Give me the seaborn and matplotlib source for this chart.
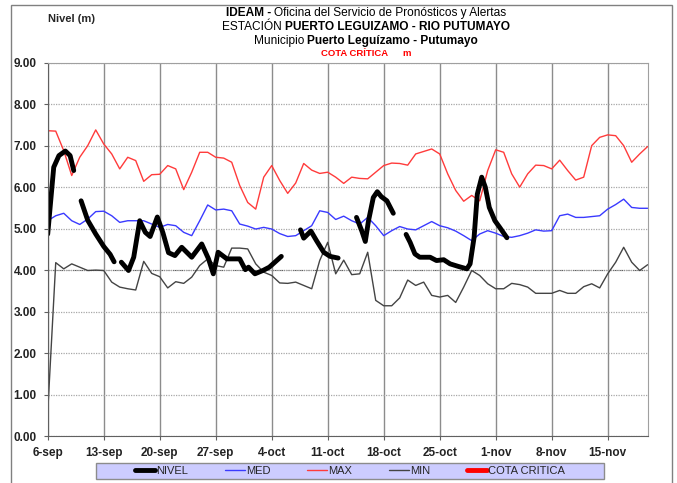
import numpy as np
import pandas as pd
import matplotlib
matplotlib.use("Agg")
import matplotlib.pyplot as plt
import seaborn as sns
from matplotlib.lines import Line2D
from matplotlib.patches import Rectangle

# datos (nivel en m), un valor por dia desde el 6-sep
inicio = pd.Timestamp("2023-09-06")
dias = np.arange(76)

med = [5.19, 5.31, 5.37, 5.19, 5.10, 5.23, 5.41, 5.42, 5.31, 5.15,
       5.19, 5.19, 5.19, 5.11, 5.03, 5.10, 5.07, 4.91, 4.83, 5.19,
       5.57, 5.45, 5.47, 5.43, 5.11, 5.06, 4.99, 5.03, 4.99, 4.88,
       4.81, 4.83, 4.95, 5.07, 5.43, 5.39, 5.22, 5.30, 5.19, 5.11,
       5.27, 5.07, 4.83, 4.95, 5.05, 4.99, 4.97, 5.07, 5.17, 5.07,
       5.02, 4.94, 4.83, 4.71, 4.87, 4.95, 4.89, 4.81, 4.79, 4.83,
       4.89, 4.97, 4.94, 4.95, 5.31, 5.35, 5.27, 5.27, 5.29, 5.31,
       5.47, 5.58, 5.71, 5.51, 5.49, 5.49]

maxi = [7.36, 7.35, 6.88, 6.28, 6.72, 7.00, 7.38, 7.04, 6.80, 6.44,
        6.72, 6.64, 6.14, 6.30, 6.31, 6.52, 6.44, 5.94, 6.36, 6.84,
        6.84, 6.72, 6.70, 6.60, 6.04, 5.63, 5.47, 6.24, 6.52, 6.16,
        5.85, 6.10, 6.57, 6.41, 6.33, 6.36, 6.24, 6.09, 6.24, 6.21,
        6.20, 6.36, 6.52, 6.58, 6.57, 6.53, 6.80, 6.86, 6.92, 6.80,
        6.32, 5.92, 5.66, 5.80, 5.67, 6.40, 6.90, 6.84, 6.32, 6.00,
        6.32, 6.53, 6.52, 6.44, 6.65, 6.40, 6.17, 6.24, 7.00, 7.20,
        7.26, 7.24, 7.00, 6.60, 6.80, 6.98]

mini = [0.58, 4.18, 4.03, 4.15, 4.07, 3.99, 4.00, 3.99, 3.71, 3.59,
        3.55, 3.52, 4.21, 3.92, 3.84, 3.57, 3.72, 3.68, 3.83, 4.11,
        4.27, 4.11, 4.07, 4.53, 4.53, 4.51, 4.15, 3.95, 3.87, 3.69,
        3.68, 3.71, 3.63, 3.55, 4.23, 4.67, 3.91, 4.24, 3.89, 3.91,
        4.43, 3.27, 3.14, 3.14, 3.33, 3.76, 3.63, 3.71, 3.39, 3.35,
        3.39, 3.22, 3.59, 3.99, 3.87, 3.67, 3.55, 3.55, 3.68, 3.65,
        3.59, 3.44, 3.44, 3.44, 3.51, 3.44, 3.44, 3.60, 3.67, 3.57,
        3.91, 4.19, 4.55, 4.19, 3.99, 4.13]

# nivel observado: varias lecturas por dia, NaN = sin dato (corta la linea)
nan = np.nan
nivel_dias = [0, 0.75, 1.4, 2.2, 2.8, 3.25, 3.7,
              4.17, 5.0, 6.0, 7.0, 7.8, 8.3, 8.7,
              9.2, 10.1, 10.75, 11.5, 12.2, 12.8, 13.7, 14.4, 15.1, 15.9,
              16.75, 18.0, 19.25, 20.1, 20.7, 21.3, 22.4, 24.0, 24.7, 25.1,
              25.9, 26.9, 27.7, 29.2, 30.0,
              31.6, 32.0, 32.9, 33.6, 34.5, 35.3, 36.3, 37.0,
              38.6, 39.25, 39.7, 40.1, 40.7, 41.2, 41.7, 42.4, 43.2, 44.0,
              44.8, 45.3, 45.9, 46.5, 47.8, 48.6, 49.5, 50.3, 51.3, 52.4,
              52.8, 53.3, 53.7, 54.25, 54.7, 55.2, 55.9, 56.5, 57.4]
nivel = [4.87, 6.48, 6.76, 6.87, 6.76, 6.40, nan,
         5.67, 5.20, 4.87, 4.57, 4.38, 4.20, nan,
         4.19, 3.99, 4.31, 5.19, 4.91, 4.81, 5.28, 4.90, 4.42, 4.35,
         4.55, 4.31, 4.63, 4.27, 3.91, 4.43, 4.27, 4.27, 4.01, 4.07,
         3.91, 3.99, 4.07, 4.33, nan,
         4.97, 4.77, 4.94, 4.71, 4.43, 4.33, 4.29, nan,
         5.27, 4.95, 4.69, 5.19, 5.75, 5.89, 5.77, 5.67, 5.37, nan,
         4.86, 4.67, 4.39, 4.31, 4.31, 4.23, 4.25, 4.15, 4.09, 4.03,
         4.15, 4.79, 5.83, 6.24, 6.00, 5.51, 5.19, 5.03, 4.78]

cota_critica = []  # sin valor en este grafico, solo aparece en la leyenda
meses = ["ene", "feb", "mar", "abr", "may", "jun",
         "jul", "ago", "sep", "oct", "nov", "dic"]

sns.set_style("white")
plt.rcParams["font.family"] = ["Liberation Sans", "DejaVu Sans"]

fig = plt.figure(figsize=(6.77, 4.83), dpi=100)
W = 677
ax = fig.add_axes([0.0705, 0.0973, 0.8862, 0.7729])

fechas = inicio + pd.to_timedelta(dias, unit="D")
df = pd.DataFrame({
    "fecha": np.tile(fechas.values, 3),
    "valor": med + maxi + mini,
    "serie": ["MED"] * 76 + ["MAX"] * 76 + ["MIN"] * 76,
})
colores = {"MED": "#3a3aff", "MAX": "#ff3b3b", "MIN": "#444444"}
sns.lineplot(data=df, x="fecha", y="valor", hue="serie", palette=colores,
             linewidth=1, legend=False, ax=ax)

dn = pd.DataFrame({"dia": nivel_dias, "nivel": nivel})
dn["tramo"] = dn["nivel"].isna().cumsum()
dn = dn.dropna()
dn["fecha"] = inicio + pd.to_timedelta(dn["dia"], unit="D")
sns.lineplot(data=dn, x="fecha", y="nivel", units="tramo", estimator=None,
             color="black", linewidth=3.5, ax=ax)

# ejes
ticks = pd.date_range(inicio, periods=11, freq="7D")
ax.set_xticks(ticks)
ax.set_xticklabels([f"{t.day}-{meses[t.month - 1]}" for t in ticks],
                   fontweight="bold", color="#222222")
ax.set_yticks(range(10))
ax.set_yticklabels([f"{v:.2f}" for v in range(10)], fontweight="bold",
                   color="#222222")
ax.set_xlim(inicio, inicio + pd.Timedelta(days=75))
ax.set_ylim(0, 9)
ax.set_xlabel("")
ax.set_ylabel("")
ax.tick_params(bottom=True, left=True, length=3, width=0.8, color="#606060",
               labelsize=8.5, pad=5)

ax.grid(axis="x", color="#8c8c8c", linewidth=1, linestyle="-")
ax.grid(axis="y", color="#a8a8a8", linewidth=0.9, linestyle=(0, (1, 1)))
ax.axhline(4, color="#404040", linewidth=0.8, linestyle=(0, (1, 1)), zorder=0.5)
ax.set_axisbelow(True)
for s in ["left", "bottom"]:
    ax.spines[s].set_color("#606060")
for s in ["top", "right"]:
    ax.spines[s].set_color("#a0a0a0")

# leyenda sobre caja lila
fig.add_artist(Rectangle((96 / W, 1 - 479 / 483), 508 / W, 16 / 483,
                         transform=fig.transFigure, facecolor="#ccccff",
                         edgecolor="#8c8c8c", linewidth=1, zorder=1))
handles = [Line2D([], [], color="black", lw=3.5),
           Line2D([], [], color=colores["MED"], lw=1),
           Line2D([], [], color=colores["MAX"], lw=1),
           Line2D([], [], color=colores["MIN"], lw=1),
           Line2D(cota_critica, cota_critica, color="#ff0000", lw=3.5)]
etiquetas = ["NIVEL", "MED", "MAX", "MIN", "COTA CRITICA"]
fig.legend(handles, etiquetas, loc="center", bbox_to_anchor=(0.517, 0.0248),
           ncol=5, frameon=False, fontsize=8, handlelength=1.8,
           handletextpad=0.1, columnspacing=3.3)

# marco exterior
fig.add_artist(Rectangle((11 / W, -0.01), 661 / W, 1.01 - 5 / 483,
                         transform=fig.transFigure, fill=False,
                         edgecolor="#808080", linewidth=1))

# titulos con partes en negrita
rend = fig.canvas.get_renderer()


def linea(y, partes, size, hueco=3, cx=366):
    objs = [fig.text(0, 1 - y / 483, s, fontsize=size, fontweight=w, color=c,
                     va="center", ha="left") for s, w, c in partes]
    anchos = [o.get_window_extent(renderer=rend).width for o in objs]
    x = cx - (sum(anchos) + hueco * (len(objs) - 1)) / 2
    for o, a in zip(objs, anchos):
        o.set_x(x / W)
        x += a + hueco


linea(13, [("IDEAM -", "bold", "black"),
           ("Oficina del Servicio de Pronósticos y Alertas", "normal", "black")], 8.6)
linea(27, [("ESTACIÓN", "normal", "black"),
           ("PUERTO LEGUIZAMO - RIO PUTUMAYO", "bold", "black")], 8.6)
linea(41, [("Municipio", "normal", "black"),
           ("Puerto Leguízamo - Putumayo", "bold", "black")], 8.6)
linea(54, [("COTA CRÍTICA", "bold", "red"), ("m", "bold", "red")], 6.8, hueco=15)

fig.text(48 / W, 1 - 19 / 483, "Nivel (m)", fontsize=8, fontweight="bold",
         ha="left", va="center")

fig.savefig("out.png", dpi=100)
